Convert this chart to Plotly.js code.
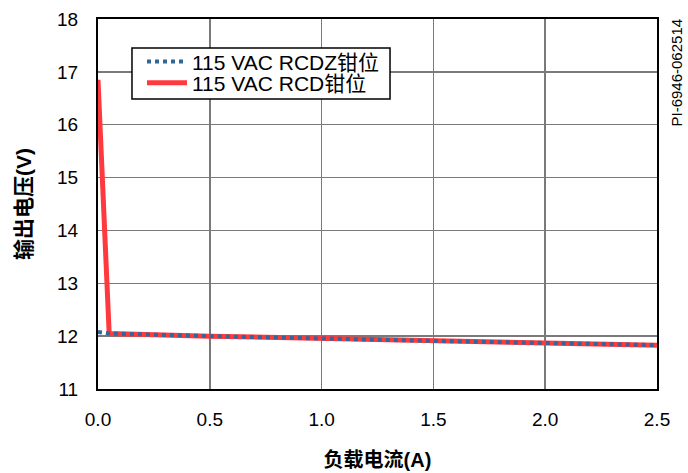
<!DOCTYPE html>
<html><head><meta charset="utf-8">
<script src="https://cdn.plot.ly/plotly-3.0.1.min.js"></script>
<style>body{margin:0;padding:0;background:#fff}#chart{width:688px;height:473px}</style>
</head><body><div id="chart"></div>
<script>
const rcdX = [0, 0.05, 0.5, 1.0, 1.5, 2.0, 2.5];
const rcdY = [16.85, 12.05, 12.0, 11.95, 11.91, 11.87, 11.83];
const rcdzX = [0, 0.05, 0.5, 1.0, 1.5, 2.0, 2.5];
const rcdzY = [12.08, 12.05, 12.0, 11.95, 11.91, 11.87, 11.83];
const seriesNames = ['115 VAC RCD钳位', '115 VAC RCDZ钳位'];
const xTicks = [0, 0.5, 1.0, 1.5, 2.0, 2.5];
const yTicks = [11, 12, 13, 14, 15, 16, 17, 18];

const fontFam = 'Liberation Sans, Arial, Noto Sans CJK SC, sans-serif';
const traces = [
  {x: rcdX, y: rcdY, name: seriesNames[0], legend: 'legend2', mode: 'lines', line: {color: '#ff3a3f', width: 5}},
  {x: rcdzX, y: rcdzY, name: seriesNames[1], legend: 'legend', mode: 'lines', line: {color: '#336799', width: 4, dash: 'dot'}}
];
const legFont = {family: fontFam, size: 21, color: '#000'};
const layout = {
  width: 688, height: 473,
  margin: {l: 98, r: 31, t: 19, b: 84},
  paper_bgcolor: '#fff', plot_bgcolor: '#fff',
  font: {family: fontFam, color: '#000', size: 19},
  showlegend: true,
  legend: {x: 0.0787, y: 0.884, xanchor: 'left', yanchor: 'middle',
    borderwidth: 0, bgcolor: 'rgba(0,0,0,0)', font: legFont, itemwidth: 40},
  legend2: {x: 0.0787, y: 0.827, xanchor: 'left', yanchor: 'middle',
    borderwidth: 0, bgcolor: 'rgba(0,0,0,0)', font: legFont, itemwidth: 40},
  shapes: [{type: 'rect', xref: 'paper', yref: 'paper', x0: 0.0608, x1: 0.5224, y0: 0.784, y1: 0.9216,
    line: {color: '#000', width: 1.5}, fillcolor: '#fff', layer: 'above'}],
  xaxis: {range: [0, 2.5], tickvals: xTicks, ticktext: xTicks.map(v => v.toFixed(1)),
    showgrid: true, gridcolor: '#7a7a7a', gridwidth: 1.5, zeroline: false,
    showline: true, linecolor: '#000', linewidth: 2, mirror: true, ticks: '',
    ticklabelstandoff: 12, tickfont: {size: 19},
    title: {text: '<b>负载电流(A)</b>', font: {size: 20}, standoff: 24}},
  yaxis: {range: [11, 18], tickvals: yTicks,
    showgrid: true, gridcolor: '#7a7a7a', gridwidth: 1.5, zeroline: false,
    showline: true, linecolor: '#000', linewidth: 2, mirror: true, ticks: '',
    ticklabelstandoff: 14, tickfont: {size: 19},
    title: {text: '<b>输出电压(V)</b>', font: {size: 21}, standoff: 20}},
  annotations: [{text: 'PI-6946-062514', xref: 'paper', yref: 'paper', x: 1.0, y: 1.0,
    xanchor: 'left', yanchor: 'top', xshift: 8, yshift: 2, textangle: -90, showarrow: false,
    font: {family: fontFam, size: 15, color: '#000'}}]
};
Plotly.newPlot('chart', traces, layout, {displayModeBar: false, staticPlot: true});
</script></body></html>
